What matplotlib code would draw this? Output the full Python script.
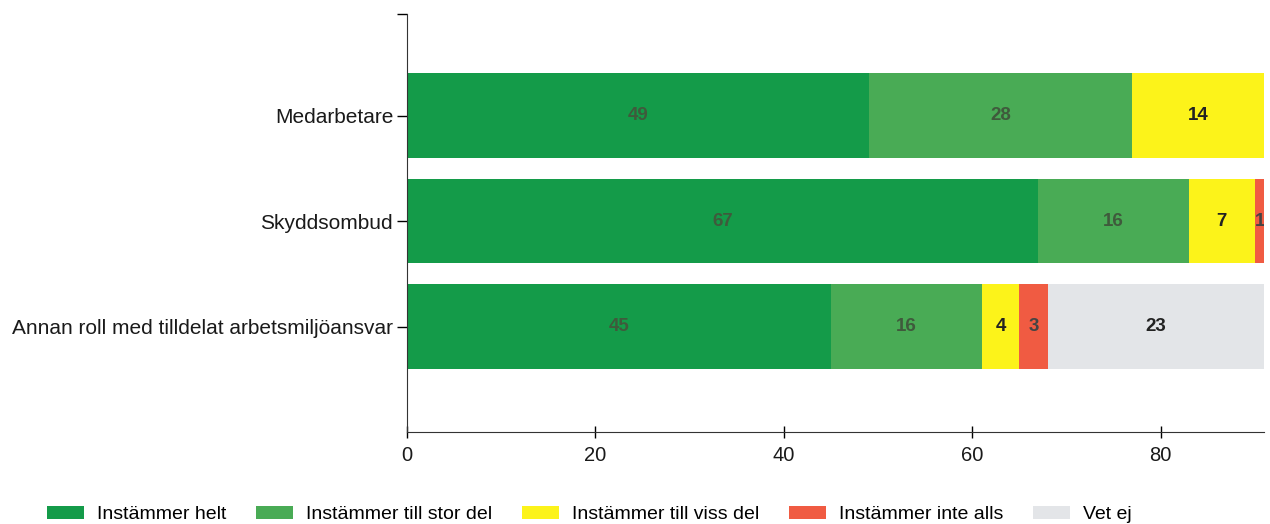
import matplotlib.pyplot as plt
import numpy as np

plt.rcParams['font.family'] = ['Liberation Sans', 'DejaVu Sans']

categories = ['Medarbetare', 'Skyddsombud', 'Annan roll med tilldelat arbetsmiljöansvar']
series_names = ['Instämmer helt', 'Instämmer till stor del', 'Instämmer till viss del',
                'Instämmer inte alls', 'Vet ej']
helt = [49, 67, 45]
stor_del = [28, 16, 16]
viss_del = [14, 7, 4]
inte_alls = [0, 1, 3]
vet_ej = [0, 0, 23]
xticks = [0, 20, 40, 60, 80]

colors = ['#149b49', '#49ab55', '#fcf31a', '#f05b42', '#e3e5e8']
text_colors = ['#3f5a3c', '#3f5a3c', '#222222', '#444444', '#222222']

fig = plt.figure(figsize=(12.7, 5.24), dpi=100)
ax = fig.add_axes([0.3205, 0.1756, 0.675, 0.797])

y = np.arange(len(categories))
left = np.zeros(len(categories))
for name, vals, c, tc in zip(series_names, [helt, stor_del, viss_del, inte_alls, vet_ej],
                             colors, text_colors):
    vals = np.array(vals, dtype=float)
    ax.barh(y, vals, left=left, height=0.8, color=c, label=name)
    for yi, l, v in zip(y, left, vals):
        if v > 0:
            ax.text(l + v / 2, yi, f'{int(v)}', ha='center', va='center',
                    fontsize=13.5, fontweight='bold', color=tc, clip_on=True)
    left += vals

ax.set_xlim(0, 91)
ax.set_ylim(3.0, -0.96)
ax.set_yticks(y)
ax.set_yticklabels(categories, fontsize=15, color='#1a1a1a')
ax.set_xticks(xticks)
ax.set_xticklabels([str(t) for t in xticks], fontsize=14.5, color='#1a1a1a')
ax.set_yticks([-0.96], minor=True)
ax.tick_params(axis='y', which='both', direction='out', length=7, width=1, pad=3)
ax.tick_params(axis='x', direction='inout', length=8, width=1, pad=6)

for s in ['top', 'right']:
    ax.spines[s].set_visible(False)
for s in ['left', 'bottom']:
    ax.spines[s].set_color('#333333')

fig.legend(loc='lower left', bbox_to_anchor=(0.023, -0.032), ncol=5, frameon=False,
           fontsize=14, handlelength=1.9, handleheight=0.7, columnspacing=1.5,
           handletextpad=0.7)

fig.savefig('out.png', dpi=100)
